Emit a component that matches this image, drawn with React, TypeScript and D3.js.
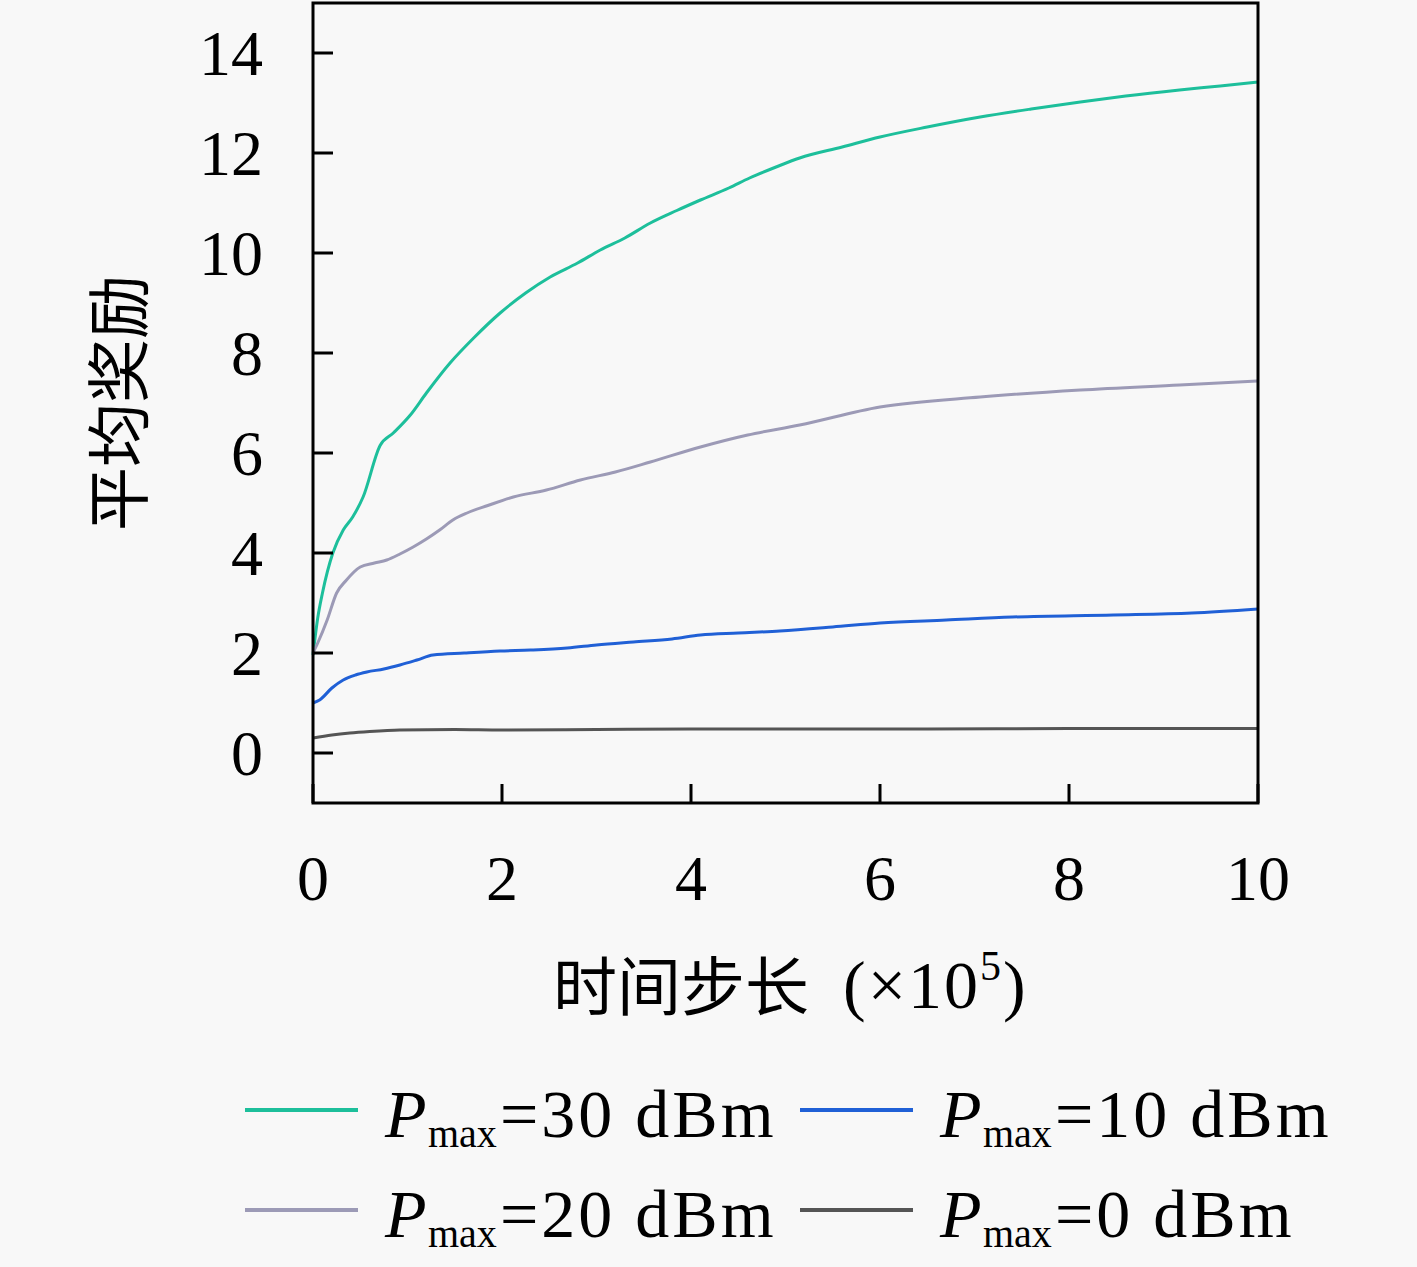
import * as d3 from "d3";

// time steps (x1e5) and average reward per power level
const steps30 = [0, 0.05, 0.1, 0.21, 0.32, 0.42, 0.53, 0.71, 0.85, 1.03, 1.2, 1.45, 1.7, 1.98, 2.25, 2.51, 2.8, 3.04, 3.3, 3.57, 3.85, 4.1, 4.4, 4.62, 4.9, 5.15, 5.6, 6.0, 6.5, 7.06, 7.6, 8.12, 8.6, 9.17, 9.6, 10];
const reward30 = [1.96, 2.7, 3.2, 4.0, 4.46, 4.72, 5.12, 6.15, 6.4, 6.76, 7.2, 7.8, 8.3, 8.8, 9.2, 9.52, 9.8, 10.06, 10.3, 10.6, 10.85, 11.06, 11.3, 11.5, 11.72, 11.9, 12.12, 12.32, 12.52, 12.72, 12.88, 13.02, 13.14, 13.26, 13.34, 13.42];

const steps20 = [0, 0.05, 0.15, 0.25, 0.35, 0.5, 0.65, 0.78, 0.92, 1.06, 1.2, 1.34, 1.48, 1.63, 1.85, 2.12, 2.47, 2.83, 3.2, 3.57, 4.1, 4.6, 5.15, 6.0, 7.06, 8.12, 9.17, 10];
const reward20 = [2.0, 2.2, 2.66, 3.2, 3.45, 3.72, 3.8, 3.86, 3.98, 4.12, 4.28, 4.46, 4.66, 4.8, 4.95, 5.12, 5.26, 5.46, 5.62, 5.82, 6.12, 6.36, 6.56, 6.92, 7.12, 7.26, 7.36, 7.44];

const steps10 = [0, 0.07, 0.2, 0.32, 0.45, 0.57, 0.75, 0.92, 1.1, 1.27, 1.6, 1.98, 2.3, 2.69, 3.0, 3.39, 3.8, 4.1, 4.5, 4.94, 5.5, 6.0, 6.7, 7.4, 8.47, 9.3, 10];
const reward10 = [1.0, 1.06, 1.3, 1.46, 1.56, 1.62, 1.68, 1.76, 1.86, 1.96, 2.0, 2.04, 2.06, 2.1, 2.16, 2.22, 2.28, 2.36, 2.4, 2.44, 2.52, 2.6, 2.66, 2.72, 2.76, 2.8, 2.88];

const steps0 = [0, 0.2, 0.39, 0.6, 0.92, 1.5, 2.0, 3.0, 4.0, 5.3, 6.5, 8.0, 10];
const reward0 = [0.3, 0.36, 0.4, 0.43, 0.46, 0.47, 0.46, 0.47, 0.48, 0.48, 0.48, 0.49, 0.49];

const seriesNames = ["30", "20", "10", "0"];
const seriesColors = ["#1dbf9b", "#9c9ab6", "#2060d6", "#555555"];

const xTicks = [0, 2, 4, 6, 8, 10];
const yTicks = [0, 2, 4, 6, 8, 10, 12, 14];

const W = 1417;
const H = 1267;
const left = 313;
const right = 1258;
const top = 3;
const bottom = 803;

const serif = "'Liberation Serif', 'DejaVu Serif', serif";
const cjk = "'Noto Sans CJK SC', sans-serif";

export default function App() {
  const x = d3.scaleLinear().domain([0, 10]).range([left, right]);
  const y = d3.scaleLinear().domain([-1, 15]).range([bottom, top]);

  const series = [
    { steps: steps30, values: reward30 },
    { steps: steps20, values: reward20 },
    { steps: steps10, values: reward10 },
    { steps: steps0, values: reward0 },
  ];

  const line = d3
    .line<[number, number]>()
    .x((d) => x(d[0]))
    .y((d) => y(d[1]))
    .curve(d3.curveMonotoneX);

  // legend: two columns, two rows
  const legendPos = [
    { lx: 245, ly: 1110 },
    { lx: 245, ly: 1210 },
    { lx: 800, ly: 1110 },
    { lx: 800, ly: 1210 },
  ];

  return (
    <svg
      width={W}
      height={H}
      style={{ position: "fixed", left: 0, top: 0, display: "block" }}
    >
      <rect width={W} height={H} fill="#f8f8f8" />

      {series.map((s, i) => (
        <path
          key={i}
          d={line(s.steps.map((t, j) => [t, s.values[j]]))!}
          fill="none"
          stroke={seriesColors[i]}
          strokeWidth={3}
          strokeLinejoin="round"
        />
      ))}

      {/* frame */}
      <rect
        x={left}
        y={top}
        width={right - left}
        height={bottom - top}
        fill="none"
        stroke="#000"
        strokeWidth={3}
      />

      {yTicks.map((t) => (
        <g key={"y" + t}>
          <line x1={left} x2={left + 20} y1={y(t)} y2={y(t)} stroke="#000" strokeWidth={3} />
          <text
            x={263}
            y={y(t)}
            dy="0.35em"
            textAnchor="end"
            fontFamily={serif}
            fontSize={64}
          >
            {t}
          </text>
        </g>
      ))}

      {xTicks.map((t) => (
        <g key={"x" + t}>
          <line x1={x(t)} x2={x(t)} y1={bottom} y2={bottom - 19} stroke="#000" strokeWidth={3} />
          <text
            x={x(t)}
            y={900}
            textAnchor="middle"
            fontFamily={serif}
            fontSize={64}
          >
            {t}
          </text>
        </g>
      ))}

      <text
        transform={`translate(120,${(top + bottom) / 2}) rotate(-90)`}
        textAnchor="middle"
        dy="0.35em"
        fontFamily={cjk}
        fontSize={64}
      >
        平均奖励
      </text>

      <text x={553} y={1010} fontFamily={cjk} fontSize={64}>
        时间步长
      </text>
      <text x={843} y={1008} fontFamily={serif} fontSize={68} letterSpacing={2}>
        <tspan>(×10</tspan>
        <tspan fontSize={42} dy={-28}>5</tspan>
        <tspan dy={28}>)</tspan>
      </text>

      {seriesNames.map((name, i) => {
        const p = legendPos[i];
        return (
          <g key={"l" + name}>
            <line
              x1={p.lx}
              x2={p.lx + 113}
              y1={p.ly}
              y2={p.ly}
              stroke={seriesColors[i]}
              strokeWidth={4}
            />
            <text fontFamily={serif} fontSize={68}>
              <tspan x={p.lx + 140} y={p.ly + 27} fontStyle="italic">P</tspan>
              <tspan x={p.lx + 183} y={p.ly + 37} fontSize={40}>max</tspan>
              <tspan x={p.lx + 255} y={p.ly + 27} letterSpacing={3}>={name} dBm</tspan>
            </text>
          </g>
        );
      })}
    </svg>
  );
}
